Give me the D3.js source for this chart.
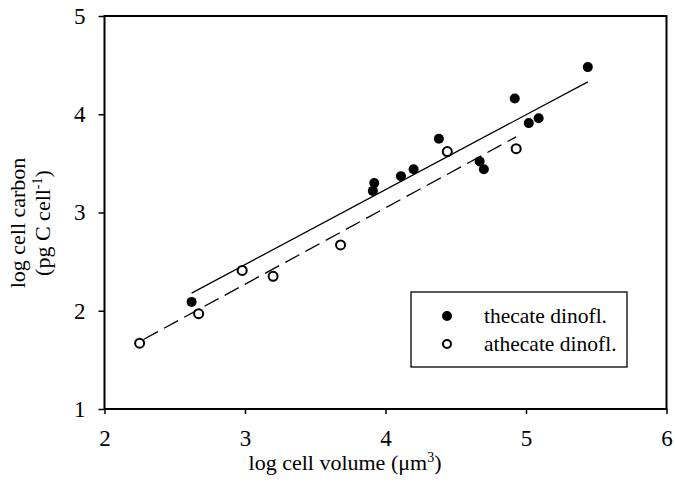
<!DOCTYPE html>
<html>
<head>
<meta charset="utf-8">
<script src="https://cdn.jsdelivr.net/npm/d3@7"></script>
<style>
  body { margin: 0; background: #fff; }
  text { font-family: "Liberation Serif", "Times New Roman", serif; fill: #000; }
</style>
</head>
<body>
<div id="chart"></div>
<script>
// thecate dinoflagellates (filled)
var thecateX = [2.62, 3.91, 3.92, 4.11, 4.2, 4.38, 4.67, 4.7, 4.92, 5.02, 5.09, 5.44];
var thecateY = [2.09, 3.22, 3.30, 3.37, 3.44, 3.75, 3.52, 3.44, 4.16, 3.91, 3.96, 4.48];
// athecate dinoflagellates (open)
var athecateX = [2.25, 2.67, 2.98, 3.2, 3.68, 4.44, 4.93];
var athecateY = [1.67, 1.97, 2.41, 2.35, 2.67, 3.62, 3.65];
// regression line ends
var thecateFitX = [2.62, 5.44];
var thecateFitY = [2.18, 4.33];
var athecateFitX = [2.28, 4.93];
var athecateFitY = [1.71, 3.77];

var xTicks = [2, 3, 4, 5, 6];
var yTicks = [1, 2, 3, 4, 5];
var legendLabels = ["thecate dinofl.", "athecate dinofl."];

var W = 675, H = 494;
var margin = { top: 16, left: 104.5 };
var width = 666.5 - margin.left,
  height = 409 - margin.top;

var svg = d3.select("#chart")
  .append("svg")
  .attr("width", W)
  .attr("height", H);

var g = svg.append("g")
  .attr("transform", "translate(" + margin.left + "," + margin.top + ")");

var x = d3.scaleLinear().domain([2, 6]).range([0, width]);
var y = d3.scaleLinear().domain([1, 5]).range([height, 0]);

// frame
g.append("rect")
  .attr("x", 0).attr("y", 0)
  .attr("width", width).attr("height", height)
  .attr("fill", "none")
  .attr("stroke", "#000")
  .attr("stroke-width", 2);

var xAxis = g.append("g")
  .attr("transform", "translate(0," + height + ")")
  .call(d3.axisBottom(x).tickValues(xTicks).tickSize(5).tickPadding(16).tickFormat(d3.format("d")));
var yAxis = g.append("g")
  .call(d3.axisLeft(y).tickValues(yTicks).tickSize(6).tickPadding(13).tickFormat(d3.format("d")));

[xAxis, yAxis].forEach(function (a) {
  a.select(".domain").remove();
  a.selectAll("line").attr("stroke", "#000").attr("stroke-width", 1.5);
  a.selectAll("text")
    .style("font-family", "'Liberation Serif', 'Times New Roman', serif")
    .style("font-size", "23px")
    .attr("fill", "#000");
});

// fitted lines
var line = d3.line()
  .x(function (d) { return x(d[0]); })
  .y(function (d) { return y(d[1]); });

g.append("path")
  .datum(d3.zip(thecateFitX, thecateFitY))
  .attr("d", line)
  .attr("fill", "none")
  .attr("stroke", "#000")
  .attr("stroke-width", 1.3);

g.append("path")
  .datum(d3.zip(athecateFitX, athecateFitY))
  .attr("d", line)
  .attr("fill", "none")
  .attr("stroke", "#000")
  .attr("stroke-width", 1.3)
  .attr("stroke-dasharray", "16,7");

// points
g.selectAll(".thecate")
  .data(d3.zip(thecateX, thecateY))
  .enter().append("circle")
  .attr("class", "thecate")
  .attr("cx", function (d) { return x(d[0]); })
  .attr("cy", function (d) { return y(d[1]); })
  .attr("r", 5)
  .attr("fill", "#000");

g.selectAll(".athecate")
  .data(d3.zip(athecateX, athecateY))
  .enter().append("circle")
  .attr("class", "athecate")
  .attr("cx", function (d) { return x(d[0]); })
  .attr("cy", function (d) { return y(d[1]); })
  .attr("r", 4.5)
  .attr("fill", "#fff")
  .attr("stroke", "#000")
  .attr("stroke-width", 2);

// legend
var legend = svg.append("g").attr("transform", "translate(411,292)");
legend.append("rect")
  .attr("width", 216).attr("height", 75)
  .attr("fill", "#fff")
  .attr("stroke", "#000")
  .attr("stroke-width", 1.3);
legendLabels.forEach(function (lab, i) {
  var cy = 24 + i * 28;
  legend.append("circle")
    .attr("cx", 36).attr("cy", cy)
    .attr("r", i === 0 ? 5 : 4)
    .attr("fill", i === 0 ? "#000" : "#fff")
    .attr("stroke", "#000")
    .attr("stroke-width", i === 0 ? 0 : 2);
  legend.append("text")
    .attr("x", 73).attr("y", cy + 7)
    .style("font-size", "21.5px")
    .text(lab);
});

// axis titles
var xt = svg.append("text")
  .attr("x", 345).attr("y", 470)
  .attr("text-anchor", "middle")
  .style("font-size", "22px");
xt.append("tspan").text("log cell volume (\u03bcm");
xt.append("tspan").attr("dy", -8).style("font-size", "14px").text("3");
xt.append("tspan").attr("dy", 8).text(")");

svg.append("text")
  .attr("transform", "translate(25,223) rotate(-90)")
  .attr("text-anchor", "middle")
  .style("font-size", "22px")
  .text("log cell carbon");
var yt2 = svg.append("text")
  .attr("transform", "translate(50,223) rotate(-90)")
  .attr("text-anchor", "middle")
  .style("font-size", "22px");
yt2.append("tspan").text("(pg C cell");
yt2.append("tspan").attr("dy", -8).style("font-size", "14px").text("-1");
yt2.append("tspan").attr("dy", 8).text(")");
</script>
</body>
</html>
